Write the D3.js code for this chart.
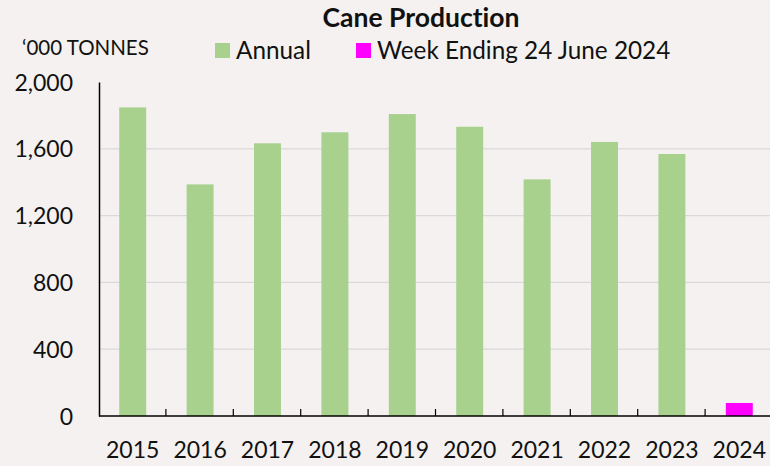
<!DOCTYPE html>
<html>
<head>
<meta charset="utf-8">
<script src="https://cdn.jsdelivr.net/npm/d3@7"></script>
<style>
  body { margin: 0; background: #f4f1f0; }
  text { font-family: Lato, "Open Sans", sans-serif; fill: #111; font-variant-ligatures: none; }
</style>
</head>
<body>
<div id="chart"></div>
<script>
// data
const years = ["2015", "2016", "2017", "2018", "2019", "2020", "2021", "2022", "2023", "2024"];
const annual = [1848, 1387, 1633, 1699, 1808, 1732, 1417, 1641, 1569, null];
const weekEnding = [null, null, null, null, null, null, null, null, null, 78];
const yTicks = [0, 400, 800, 1200, 1600, 2000];

const W = 770, H = 466;
const margin = {top: 82, right: -3, bottom: 50, left: 99},
    width = W - margin.left - margin.right,
    height = H - margin.top - margin.bottom;

const svg = d3.select("#chart")
  .append("svg")
    .attr("width", W)
    .attr("height", H);

// background
svg.append("rect")
    .attr("width", W).attr("height", H)
    .attr("fill", "#f4f1f0");

const g = svg.append("g")
    .attr("transform", `translate(${margin.left}, ${margin.top})`);

const x = d3.scaleBand()
  .domain(years)
  .range([0, width])
  .paddingInner(0.6)
  .paddingOuter(0.3);

const y = d3.scaleLinear()
  .domain([0, 2000])
  .range([height, 0]);

// gridlines
g.selectAll(".grid")
  .data(yTicks.filter(d => d > 0 && d < 2000))
  .join("line")
    .attr("x1", 0).attr("x2", width)
    .attr("y1", d => y(d)).attr("y2", d => y(d))
    .attr("stroke", "#d9d9d9")
    .attr("stroke-width", 1.2);

// bars
g.selectAll(".annual")
  .data(years.map((d, i) => ({year: d, v: annual[i]})).filter(d => d.v != null))
  .join("rect")
    .attr("x", d => x(d.year))
    .attr("y", d => y(d.v))
    .attr("width", x.bandwidth())
    .attr("height", d => height - y(d.v))
    .attr("fill", "#a9d18e");

g.selectAll(".week")
  .data(years.map((d, i) => ({year: d, v: weekEnding[i]})).filter(d => d.v != null))
  .join("rect")
    .attr("x", d => x(d.year))
    .attr("y", d => y(d.v))
    .attr("width", x.bandwidth())
    .attr("height", d => height - y(d.v))
    .attr("fill", "#ff00ff");

// y axis
const yAxis = g.append("g")
  .call(d3.axisLeft(y).tickValues(yTicks).tickSize(0).tickPadding(26).tickFormat(d3.format(",")));
yAxis.select(".domain").attr("stroke", "#000").attr("stroke-width", 1.5);
yAxis.selectAll("text").style("font-size", "23px").attr("dy", "0.35em");

// x axis with inward ticks at category boundaries
const step = x.step();
g.append("line")
    .attr("x1", 0).attr("x2", width)
    .attr("y1", height).attr("y2", height)
    .attr("stroke", "#000").attr("stroke-width", 1.5);
g.selectAll(".xtick")
  .data(years.slice(1))
  .join("line")
    .attr("x1", d => x(d) - x.paddingInner() * step / 2 - 0.5)
    .attr("x2", d => x(d) - x.paddingInner() * step / 2 - 0.5)
    .attr("y1", height).attr("y2", height - 7)
    .attr("stroke", "#000").attr("stroke-width", 1.2);
g.selectAll(".xlabel")
  .data(years)
  .join("text")
    .attr("x", d => x(d) + x.bandwidth() / 2)
    .attr("y", height + 42)
    .attr("text-anchor", "middle")
    .style("font-size", "23px")
    .text(d => d);

// title
svg.append("text")
    .attr("x", 421)
    .attr("y", 27)
    .attr("text-anchor", "middle")
    .style("font-size", "26.5px")
    .style("font-weight", "bold")
    .text("Cane Production");

// unit label
svg.append("text")
    .attr("x", 22)
    .attr("y", 55)
    .style("font-size", "20.5px")
    .text("\u2018000 TONNES");

// legend
const legend = [
  {label: "Annual", color: "#a9d18e", x: 215},
  {label: "Week Ending 24 June 2024", color: "#ff00ff", x: 356}
];
const lg = svg.selectAll(".legend")
  .data(legend)
  .join("g")
    .attr("transform", d => `translate(${d.x}, 43)`);
lg.append("rect")
    .attr("width", 15).attr("height", 15)
    .attr("fill", d => d.color);
lg.append("text")
    .attr("x", 21)
    .attr("y", 16)
    .style("font-size", "24.3px")
    .text(d => d.label);
</script>
</body>
</html>
